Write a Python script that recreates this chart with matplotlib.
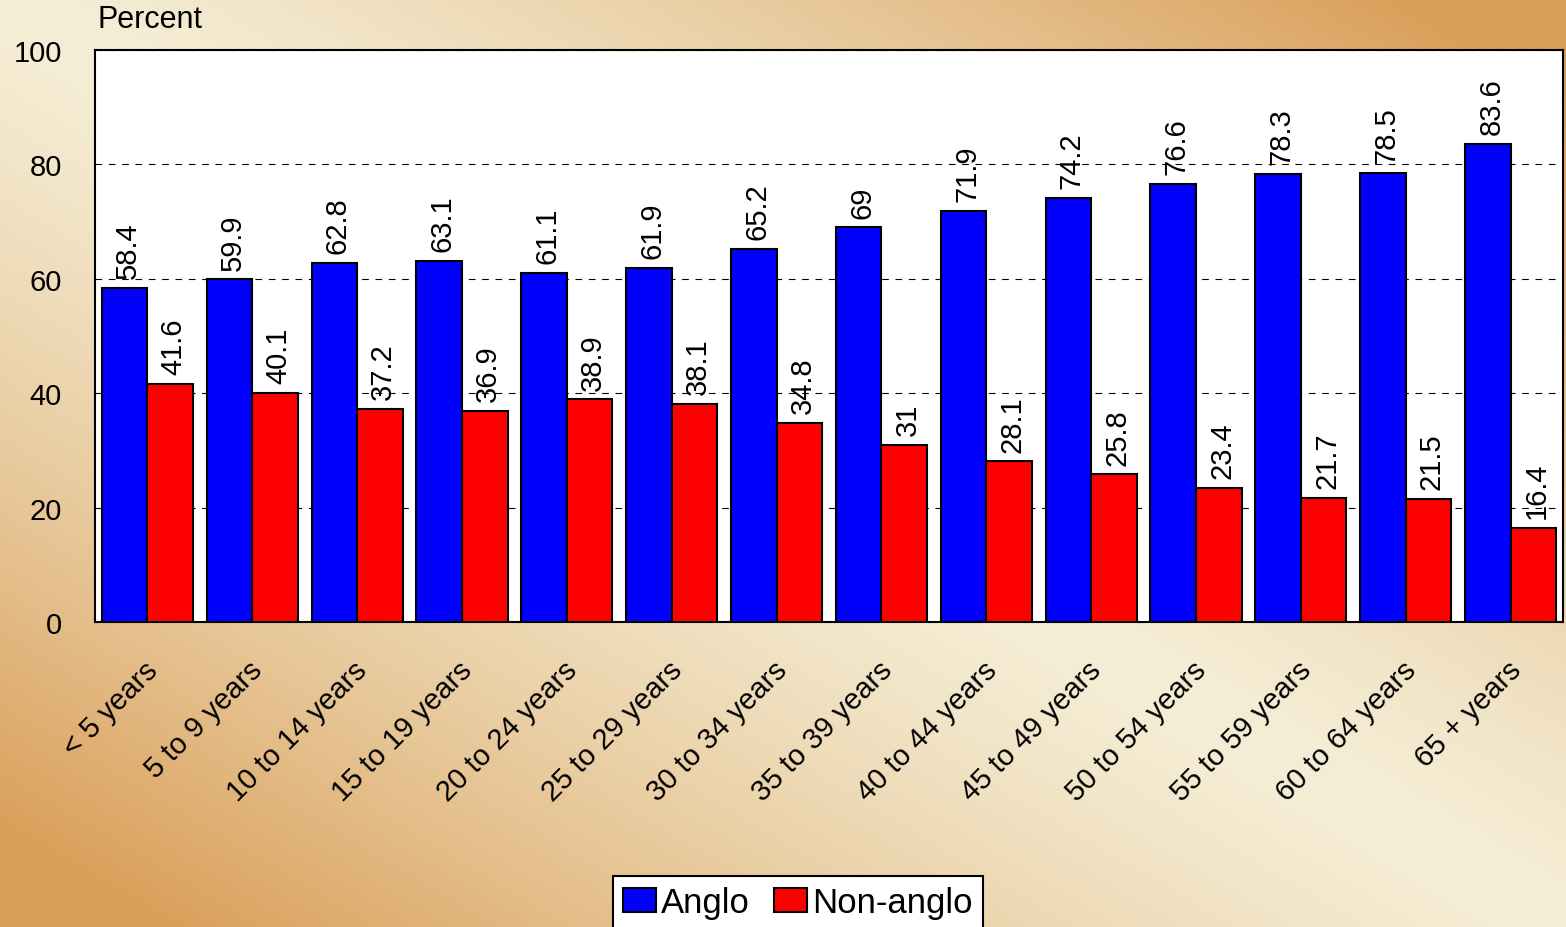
import numpy as np
import matplotlib
matplotlib.use("Agg")
import matplotlib.pyplot as plt
import matplotlib.transforms as mtransforms

plt.rcParams["font.family"] = ["Liberation Sans", "DejaVu Sans"]

# Data
age_groups = ["< 5 years", "5 to 9 years", "10 to 14 years", "15 to 19 years",
              "20 to 24 years", "25 to 29 years", "30 to 34 years",
              "35 to 39 years", "40 to 44 years", "45 to 49 years",
              "50 to 54 years", "55 to 59 years", "60 to 64 years",
              "65 + years"]
anglo = [58.4, 59.9, 62.8, 63.1, 61.1, 61.9, 65.2, 69, 71.9, 74.2, 76.6,
         78.3, 78.5, 83.6]
non_anglo = [41.6, 40.1, 37.2, 36.9, 38.9, 38.1, 34.8, 31, 28.1, 25.8, 23.4,
             21.7, 21.5, 16.4]
y_ticks = [0, 20, 40, 60, 80, 100]

W, H = 1566, 928
fig = plt.figure(figsize=(W / 100, H / 100), dpi=100)

# background gradient: light along the main diagonal, orange in the corners
bg = fig.add_axes([0, 0, 1, 1], zorder=-10)
xx, yy = np.meshgrid(np.linspace(0, 1, 400), np.linspace(0, 1, 240))
t = np.clip(np.abs(xx - yy) * 1.1, 0, 1) ** 1.3
light = np.array([245, 238, 214]) / 255
dark = np.array([217, 158, 88]) / 255
img = light[None, None, :] * (1 - t[..., None]) + dark[None, None, :] * t[..., None]
bg.imshow(img, aspect="auto", extent=[0, 1, 0, 1], origin="upper")
bg.axis("off")

ax = fig.add_axes([95 / W, 1 - 623 / H, (1563 - 95) / W, (623 - 51) / H])
ax.set_facecolor("white")

x = np.arange(len(age_groups))
w = 0.434
b1 = ax.bar(x - w / 2, anglo, w, color="#0000FF", edgecolor="black",
            linewidth=1.5, label="Anglo", zorder=3)
b2 = ax.bar(x + w / 2, non_anglo, w, color="#FF0000", edgecolor="black",
            linewidth=1.5, label="Non-anglo", zorder=3)

for bars, vals in ((b1, anglo), (b2, non_anglo)):
    for rect, v in zip(bars, vals):
        ax.annotate(f"{v:g}", (rect.get_x() + rect.get_width() / 2, v),
                    xytext=(2.5, 7), textcoords="offset points",
                    rotation=90, ha="center", va="bottom", fontsize=21)

ax.set_xlim(-0.5, len(age_groups) - 0.5)
ax.set_ylim(0, 100)
ax.set_yticks(y_ticks)
ax.set_yticklabels([str(v) for v in y_ticks], fontsize=21)
ax.tick_params(axis="y", length=0, pad=24)
ax.set_xticks(x)
ax.set_xticklabels(age_groups, fontsize=21, rotation=45, ha="right",
                   va="center", rotation_mode="anchor")
ax.tick_params(axis="x", length=0, pad=30)
shift = mtransforms.ScaledTranslation(6 / 100, -2 / 100, fig.dpi_scale_trans)
for lbl in ax.get_xticklabels():
    lbl.set_transform(lbl.get_transform() + shift)
for s in ax.spines.values():
    s.set_linewidth(1.5)
    s.set_color("black")
ax.yaxis.grid(True, linestyle=(0, (6, 6)), color="black", linewidth=0.8)
ax.set_axisbelow(True)

fig.text(97 / W, 1 - 20 / H, "Percent", fontsize=22, va="center", ha="left")

leg = fig.legend(handles=[b1, b2], loc="upper center",
                 bbox_to_anchor=(798 / W, 1 - 877 / H), ncol=2, fontsize=25,
                 frameon=True, fancybox=False, framealpha=1,
                 edgecolor="black", handlelength=0.95, handleheight=0.7,
                 handletextpad=0.15, columnspacing=0.7, borderpad=0.3,
                 borderaxespad=0)
leg.get_frame().set_linewidth(1.5)

fig.savefig("out.png", dpi=100)
